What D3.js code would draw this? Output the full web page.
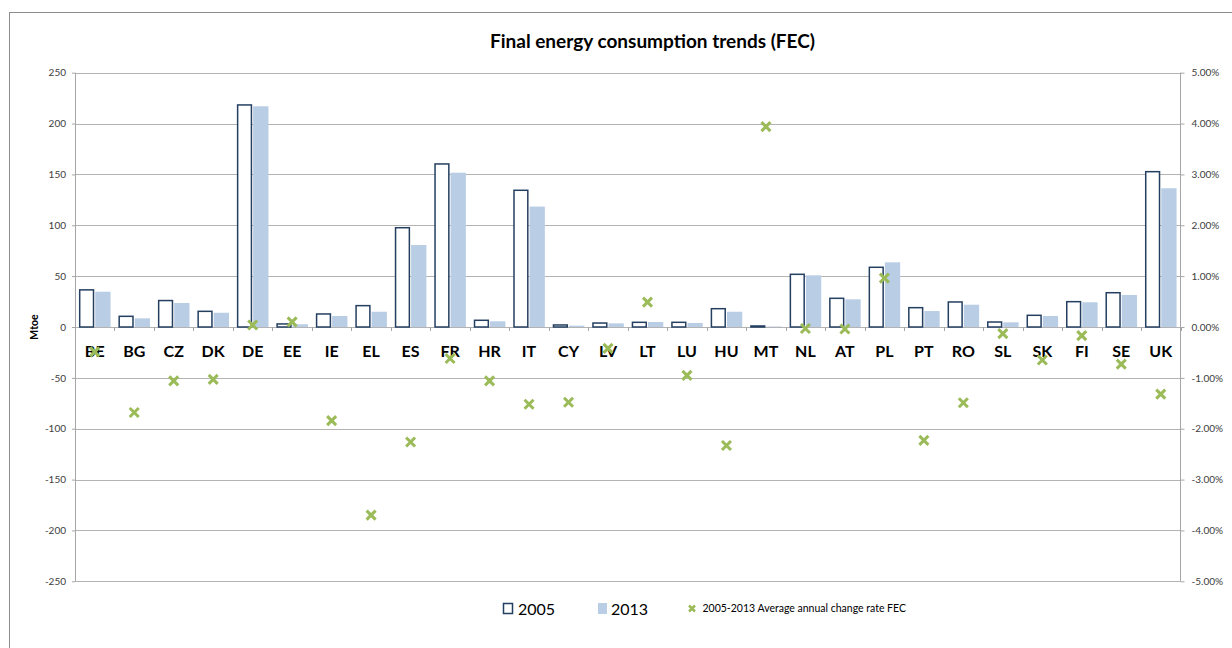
<!DOCTYPE html>
<html>
<head>
<meta charset="utf-8">
<script src="https://cdn.jsdelivr.net/npm/d3@7"></script>
<style>
  body { margin: 0; background: #fff; }
  svg { display: block; font-family: Lato, "Open Sans", sans-serif; }
  .axis path { display: none; }
  .axis line { stroke: #a6a6a6; }
  .axis text { fill: #404040; font-size: 10px; font-family: Lato, sans-serif; }
</style>
</head>
<body>
<svg width="1232" height="648"></svg>
<script>
// data
var countries = ["BE","BG","CZ","DK","DE","EE","IE","EL","ES","FR","HR","IT","CY","LV",
                 "LT","LU","HU","MT","NL","AT","PL","PT","RO","SL","SK","FI","SE","UK"];
var fec2005 = [36.5, 10.5, 26, 15.4, 218.3, 3, 12.8, 21, 97.6, 160.3, 6.6, 134.4, 2, 3.9,
               4.6, 4.6, 18, 1, 51.8, 28.2, 58.7, 19, 24.6, 4.9, 11.5, 24.9, 33.7, 152.7];
var fec2013 = [34.7, 8.5, 23.6, 14, 217, 2.7, 10.8, 15, 80.6, 151.7, 5.6, 118.4, 1.3, 3.6,
               4.9, 3.9, 15, 0.5, 50.8, 27.2, 63.6, 15.7, 21.9, 4.6, 10.8, 24.3, 31.5, 136.4];
// average annual change rate 2005-2013, in percent
var changeRate = [-0.49, -1.68, -1.06, -1.03, 0.04, 0.10, -1.84, -3.70, -2.26, -0.62, -1.06, -1.52, -1.48, -0.42,
                  0.49, -0.95, -2.33, 3.94, -0.03, -0.04, 0.96, -2.23, -1.49, -0.13, -0.65, -0.17, -0.73, -1.32];
var leftTicks = [-250, -200, -150, -100, -50, 0, 50, 100, 150, 200, 250];
var rightTicks = [-5, -4, -3, -2, -1, 0, 1, 2, 3, 4, 5];
var seriesNames = ["2005", "2013"];
var rateName = "2005-2013 Average annual change rate FEC";

var svg = d3.select("svg"),
    margin = {top: 72.7, left: 75, right: 1180.5, bottom: 581.3};

var data = countries.map(function(c, i) {
    return {country: c, v: [fec2005[i], fec2013[i]], rate: changeRate[i]};
});

// scales
var x0 = d3.scaleBand().domain(countries).range([margin.left, margin.right])
    .paddingInner(0.2).paddingOuter(0.1);
var x1 = d3.scaleBand().domain([0, 1]).range([0, x0.bandwidth()]).paddingInner(0.06);
var y = d3.scaleLinear().domain([-250, 250]).range([margin.bottom, margin.top]);
var y2 = d3.scaleLinear().domain([-5, 5]).range([margin.bottom, margin.top]);

// outer chart border
svg.append("rect")
    .attr("x", 9.5).attr("y", 12.5)
    .attr("width", 1300).attr("height", 700)
    .attr("fill", "none")
    .attr("stroke", "#8c8c8c");

// title
svg.append("text")
    .attr("x", 652.5).attr("y", 47.5)
    .attr("text-anchor", "middle")
    .attr("font-size", 19)
    .attr("font-weight", "bold")
    .attr("fill", "#000")
    .text("Final energy consumption trends (FEC)");

// gridlines
svg.append("g").selectAll("line")
    .data(leftTicks).enter()
    .append("line")
    .attr("x1", margin.left).attr("x2", margin.right)
    .attr("y1", function(d) { return Math.round(y(d)) + 0.5; })
    .attr("y2", function(d) { return Math.round(y(d)) + 0.5; })
    .attr("stroke", "#b3b3b3");

// left axis
svg.append("g")
    .attr("class", "axis")
    .attr("transform", "translate(" + margin.left + ",0)")
    .call(d3.axisLeft(y).tickValues(leftTicks).tickSize(3).tickPadding(6)
        .tickFormat(function(d) { return String(d); }));
svg.append("line")
    .attr("x1", margin.left + 0.5).attr("x2", margin.left + 0.5)
    .attr("y1", margin.top).attr("y2", margin.bottom)
    .attr("stroke", "#a6a6a6");

// right axis
svg.append("g")
    .attr("class", "axis")
    .attr("transform", "translate(" + margin.right + ",0)")
    .call(d3.axisRight(y2).tickValues(rightTicks).tickSize(4).tickPadding(7)
        .tickFormat(function(d) { return d.toFixed(2) + "%"; }));
svg.append("line")
    .attr("x1", margin.right).attr("x2", margin.right)
    .attr("y1", margin.top).attr("y2", margin.bottom)
    .attr("stroke", "#a6a6a6");

// y axis title
svg.append("text")
    .attr("transform", "translate(38," + y(0) + ") rotate(-90)")
    .attr("text-anchor", "middle")
    .attr("font-size", 10.5)
    .attr("font-weight", "bold")
    .attr("fill", "#000")
    .text("Mtoe");

// category ticks on the zero line
var bounds = countries.map(function(c) { return x0(c) - x0.step() * x0.paddingInner() / 2; });
bounds.push(margin.right);
svg.append("g").selectAll("line")
    .data(bounds).enter()
    .append("line")
    .attr("x1", function(d) { return Math.round(d) + 0.5; })
    .attr("x2", function(d) { return Math.round(d) + 0.5; })
    .attr("y1", y(0)).attr("y2", y(0) + 4)
    .attr("stroke", "#a6a6a6");

// bars
var groups = svg.append("g").selectAll("g")
    .data(data).enter()
    .append("g")
    .attr("transform", function(d) { return "translate(" + x0(d.country) + ",0)"; });

groups.selectAll("rect")
    .data(function(d) { return d.v.map(function(v, i) { return {i: i, v: v}; }); })
    .enter().append("rect")
    .attr("x", function(d) { return x1(d.i) + (d.i === 0 ? 0.75 : 0); })
    .attr("y", function(d) { return y(d.v); })
    .attr("width", function(d) { return x1.bandwidth() - (d.i === 0 ? 1.5 : 0); })
    .attr("height", function(d) { return y(0) - y(d.v); })
    .attr("fill", function(d) { return d.i === 0 ? "#fff" : "#b9cde5"; })
    .attr("stroke", function(d) { return d.i === 0 ? "#243f60" : "none"; })
    .attr("stroke-width", 1.5);

// category labels
svg.append("g").selectAll("text")
    .data(countries).enter()
    .append("text")
    .attr("x", function(d) { return x0(d) + x0.bandwidth() / 2; })
    .attr("y", 357)
    .attr("text-anchor", "middle")
    .attr("font-size", 16)
    .attr("font-weight", "bold")
    .attr("fill", "#000")
    .text(function(d) { return d; });

// X markers for change rate
function cross(s) {
    return "M" + (-s) + "," + (-s) + "L" + s + "," + s + "M" + (-s) + "," + s + "L" + s + "," + (-s);
}
svg.append("g").selectAll("path")
    .data(data).enter()
    .append("path")
    .attr("transform", function(d) {
        return "translate(" + (x0(d.country) + x0.bandwidth() / 2) + "," + y2(d.rate) + ")";
    })
    .attr("d", cross(4.5))
    .attr("stroke", "#9bbb59")
    .attr("stroke-width", 3)
    .attr("fill", "none");

// legend
var legend = svg.append("g");
legend.append("rect")
    .attr("x", 503.5).attr("y", 603.5)
    .attr("width", 9).attr("height", 10)
    .attr("fill", "#fff").attr("stroke", "#243f60").attr("stroke-width", 1.5);
legend.append("text")
    .attr("x", 518).attr("y", 614.5)
    .attr("font-size", 16).attr("fill", "#000")
    .text(seriesNames[0]);
legend.append("rect")
    .attr("x", 598).attr("y", 603)
    .attr("width", 9).attr("height", 11)
    .attr("fill", "#b9cde5");
legend.append("text")
    .attr("x", 611).attr("y", 614.5)
    .attr("font-size", 16).attr("fill", "#000")
    .text(seriesNames[1]);
legend.append("path")
    .attr("transform", "translate(692,608.5)")
    .attr("d", cross(3))
    .attr("stroke", "#9bbb59").attr("stroke-width", 2.5);
legend.append("text")
    .attr("x", 702.5).attr("y", 612)
    .attr("font-size", 10.5).attr("fill", "#000")
    .text(rateName);
</script>
</body>
</html>
